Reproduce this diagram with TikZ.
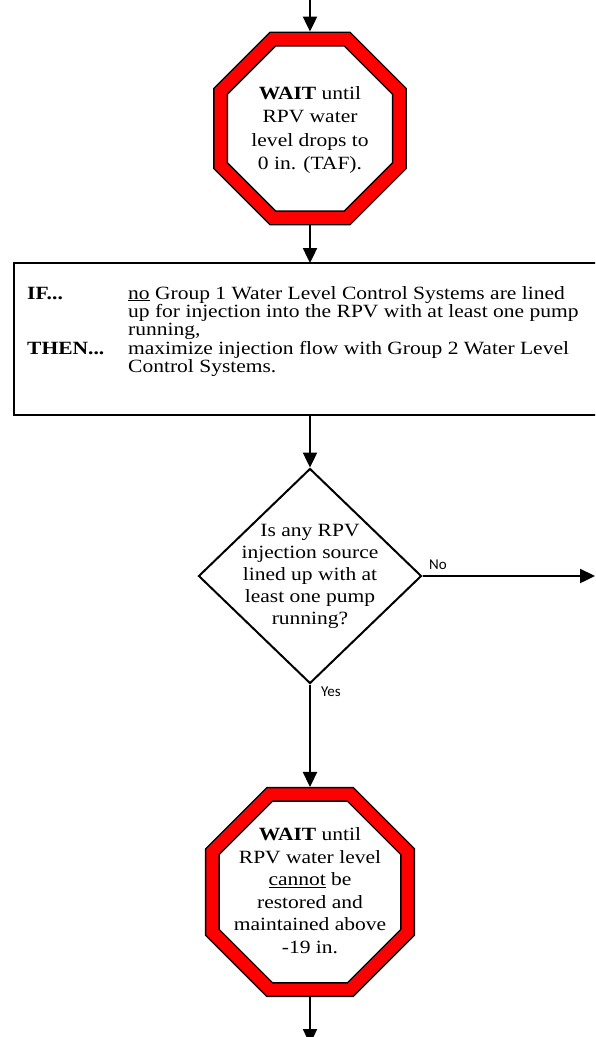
\documentclass[tikz,border=0pt]{standalone}
\usepackage{fontspec}
\setmainfont{Liberation Serif}[FakeStretch=1.15]
\newfontfamily\labelfont{Carlito}
\usetikzlibrary{shapes.geometric,arrows.meta}
\begin{document}
\begin{tikzpicture}[x=1pt,y=1pt,
  flow/.style={line width=2.4pt,-{Triangle[length=15pt,width=14pt]}},
  stopsign/.style={regular polygon, regular polygon sides=8, draw=black,
    line width=1.5pt, double=red, double distance=12pt, inner sep=0pt, outer sep=7.5pt},
  waittext/.style={align=center, inner sep=0pt},
  decision/.style={diamond, draw=black, line width=2pt, inner sep=0pt,
    minimum width=223pt, minimum height=215pt},
  ifbox/.style={rectangle, draw=black, line width=2.5pt, inner sep=0pt, outer sep=0pt,
    anchor=north west, minimum width=600pt, minimum height=152pt},
  branch/.style={font=\labelfont\fontsize{15}{18}\selectfont, inner sep=0pt}
]
\fill[white] (0,0) rectangle (595,-1037);
\useasboundingbox (0,0) rectangle (595,-1037);
\clip (0,0) rectangle (595,-1037);

% top stop sign
\coordinate (top) at (310,2);
\node[stopsign, minimum size=193.7pt] (o1) at (310,-128.5) {};
\node[waittext, font=\fontsize{18.7}{23.5}\selectfont] (o1t) at (310,-130)
  {\textbf{WAIT} until\\RPV water\\level drops to\\0 in. (TAF).};

% IF / THEN box
\node[ifbox] (box) at (14,-263) {};
\node[anchor=base west, inner sep=0pt, font=\fontsize{18.7}{18}\selectfont] (boxt) at (27,-299)
  {\begin{tabular}[t]{@{}p{101pt}@{}l@{}}
   \textbf{IF...} & \underline{no} Group 1 Water Level Control Systems are lined\\
   & up for injection into the RPV with at least one pump\\
   & running,\\
   \textbf{THEN...} & maximize injection flow with Group 2 Water Level\\
   & Control Systems.
   \end{tabular}};

% decision
\node[decision] (d) at (310,-576) {};
\node[waittext, font=\fontsize{18.7}{22}\selectfont] (dt) at (310,-576.5)
  {Is any RPV\\injection source\\lined up with at\\least one pump\\running?};
\coordinate (noend) at (595,-576);
\node[branch] (nolab) at (438,-565) {No};
\node[branch] (yeslab) at (331,-692) {Yes};

% bottom stop sign
\node[stopsign, minimum size=211.1pt] (o2) at (310,-892) {};
\node[waittext, font=\fontsize{18.7}{22.5}\selectfont] (o2t) at (310,-890.5)
  {\textbf{WAIT} until\\RPV water level\\\underline{cannot} be\\restored and\\maintained above\\-19 in.};
\coordinate (bottom) at (310,-1044);

% connectors
\draw[flow] (top) -- (o1.north);
\draw[flow] (o1.south) -- (o1.south |- box.north);
\draw[flow] (box.south -| d.north) -- (d.north);
\draw[flow] (d.east) -- (noend);
\draw[flow] (d.south) -- (o2.north);
\draw[flow] (o2.south) -- (bottom);
\end{tikzpicture}
\end{document}
